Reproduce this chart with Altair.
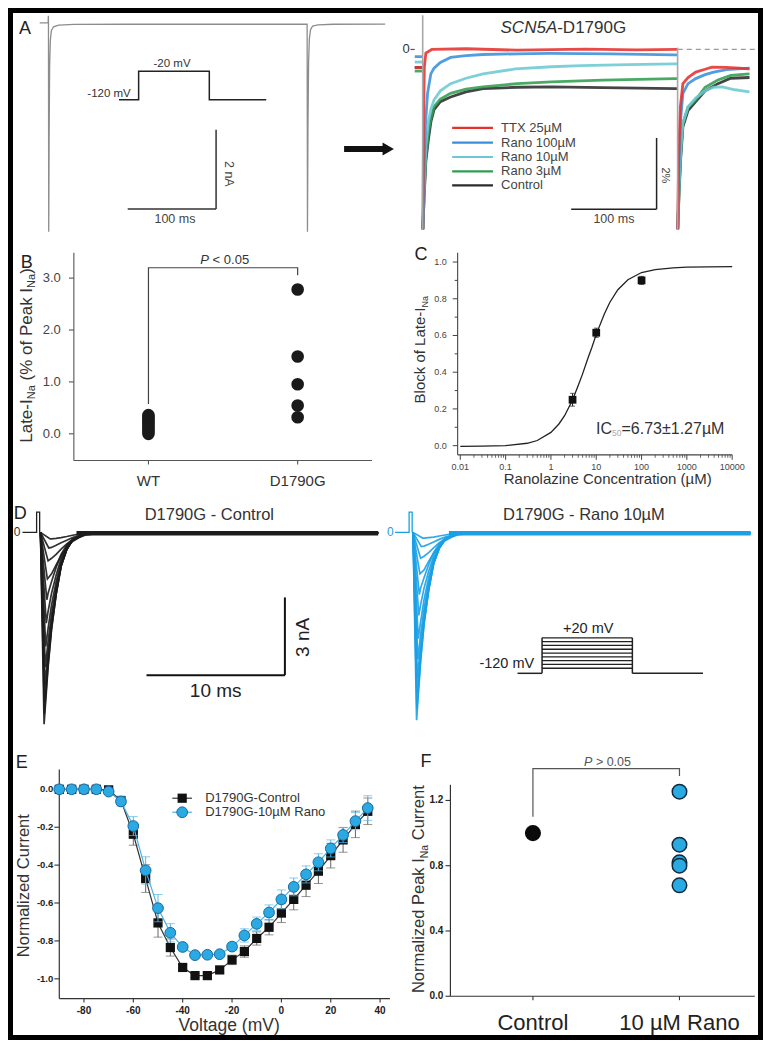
import altair as alt
import pandas as pd

# =========================== DATA ===========================
# Panel A (left): whole-cell current (nA) vs time (ms)
a_left_time = [0, 9.8, 10.0, 10.15, 10.45, 10.9, 11.5, 12.3, 13.5, 16, 22, 40, 100, 200,
               309.6, 310.0, 310.6, 311.3, 312.2, 313.6, 316, 322, 340, 400]
a_left_curr = [0, 0, 0.18, 0.0, -5.3, -3.0, -1.1, -0.45, -0.2, -0.1, -0.06, -0.04, -0.035, -0.035,
               -0.035, -5.3, -2.6, -1.0, -0.4, -0.17, -0.08, -0.05, -0.035, -0.03]
# voltage protocol inset (schematic)
a_proto_time = [0, 20, 20, 92, 92, 150]
a_proto_mv = [-120, -120, -20, -20, -120, -120]

# Panel A (right): late current (% of peak) vs time (ms)
a_names = ["TTX 25µM", "Rano 100µM", "Rano 10µM", "Rano 3µM", "Control"]
ttx_time = [0, 9.2, 9.5, 10.3, 11.2, 13, 20, 60, 120, 200, 260, 307.5, 308, 309, 311, 314, 320, 329, 340, 348, 365, 380, 392]
ttx_curr = [-0.5, -0.5, -5.0, -2.0, -0.5, -0.1, 0.0, 0.02, -0.02, 0.01, -0.01, 0.0, -5.0, -3.0, -1.6, -0.95, -0.78, -0.63, -0.55, -0.49, -0.5, -0.52, -0.54]
r100_time = [0, 9.2, 9.5, 11, 12.5, 15, 18.8, 22.6, 30, 42, 60, 80, 120, 157, 230, 304, 307.5, 308, 309.5, 311.5, 314, 320, 329, 340, 350, 365, 392]
r100_curr = [-0.2, -0.2, -5.0, -3.4, -2.1, -1.22, -0.68, -0.52, -0.36, -0.22, -0.17, -0.14, -0.12, -0.11, -0.12, -0.15, -0.15, -5.0, -3.2, -1.9, -1.22, -0.95, -0.81, -0.7, -0.63, -0.56, -0.52]
r10_time = [0, 9.2, 9.5, 11, 13, 16, 19, 22.6, 30, 42, 60, 80, 118, 160, 195, 250, 304, 307.5, 308, 309.5, 311.5, 314, 320, 329, 340, 350, 360, 375, 392]
r10_curr = [-0.35, -0.35, -5.0, -3.8, -2.7, -2.0, -1.65, -1.4, -1.15, -0.95, -0.8, -0.68, -0.54, -0.48, -0.45, -0.42, -0.40, -0.40, -5.0, -3.8, -2.8, -2.05, -1.6, -1.35, -1.15, -1.05, -1.04, -1.12, -1.18]
r3_time = [0, 9.2, 9.5, 11, 13, 16, 19, 22.6, 30, 42, 60, 80, 120, 160, 220, 304, 307.5, 308, 309.5, 311.5, 314, 320, 329, 340, 355, 370, 392]
r3_curr = [-0.6, -0.6, -5.0, -4.0, -3.0, -2.3, -1.9, -1.59, -1.38, -1.22, -1.1, -1.04, -0.95, -0.9, -0.85, -0.81, -0.81, -5.0, -3.9, -2.9, -2.05, -1.6, -1.4, -1.05, -0.85, -0.72, -0.68]
ctl_time = [0, 9.2, 9.5, 11, 13, 16, 19, 22.6, 30, 42, 60, 80, 120, 160, 220, 304, 307.5, 308, 309.5, 311.5, 314, 320, 329, 340, 355, 370, 392]
ctl_curr = [-0.5, -0.5, -5.0, -4.1, -3.1, -2.5, -2.0, -1.67, -1.45, -1.32, -1.18, -1.09, -1.05, -1.04, -1.06, -1.09, -1.09, -5.0, -4.0, -3.0, -2.15, -1.7, -1.45, -1.15, -0.95, -0.8, -0.78]
a_cap_time = [9.3, 307.8]
a_cap_top = [0.95, 0.05]
a_cap_bottom = [-5.0, -5.0]

# Panel B: late INa (% of peak)
b_groups = ["WT", "D1790G"]
b_wt = [0.0, 0.04, 0.08, 0.12, 0.16, 0.2, 0.24, 0.28, 0.32, 0.36]
b_mut = [2.78, 1.49, 0.955, 0.545, 0.32]

# Panel C: dose response
c_conc = [3, 10, 100]
c_block = [0.25, 0.615, 0.90]
c_sem = [0.035, 0.025, 0.022]
c_fit_conc = [0.01, 0.03, 0.1, 0.3, 0.5, 1, 1.5, 2, 3, 4, 5, 6.73, 8, 10, 15, 20, 30, 50, 100, 200, 500, 1000, 3000, 10000]
c_fit_block = [-0.004, -0.003, 0.0, 0.013, 0.028, 0.072, 0.118, 0.163, 0.249, 0.327, 0.391, 0.484, 0.535, 0.606,
               0.716, 0.781, 0.849, 0.904, 0.943, 0.959, 0.968, 0.972, 0.974, 0.975]
c_xtick_labels = ["0.01", "0.1", "1", "10", "100", "1000", "10000"]

# Panel D: current families (nA vs ms), one list per voltage step
d_sample_time = [
    [0, 0.26, 0.55, 0.8, 1.13, 1.49, 1.9, 2.32, 3.26, 4.5, 24.4],
    [0, 0.28, 0.55, 0.8, 1.13, 1.49, 1.9, 2.32, 3.26, 4.5, 24.4],
    [0, 0.30, 0.55, 0.8, 1.13, 1.49, 1.9, 2.32, 3.26, 4.5, 24.4],
    [0, 0.32, 0.55, 0.8, 1.13, 1.49, 1.9, 2.32, 3.26, 4.5, 24.4],
    [0, 0.35, 0.55, 0.8, 1.13, 1.49, 1.9, 2.32, 3.26, 4.5, 24.4],
    [0, 0.38, 0.55, 0.8, 1.13, 1.49, 1.9, 2.32, 3.26, 4.5, 24.4],
    [0, 0.42, 0.55, 0.8, 1.13, 1.49, 1.9, 2.32, 3.26, 4.5, 24.4],
    [0, 0.46, 0.55, 0.8, 1.13, 1.49, 1.9, 2.32, 3.26, 4.5, 24.4],
    [0, 0.50, 0.8, 1.13, 1.49, 1.9, 2.32, 2.8, 3.26, 4.5, 24.4],
    [0, 0.55, 0.8, 1.13, 1.49, 1.9, 2.32, 2.8, 3.26, 4.5, 24.4],
    [0, 0.60, 0.8, 1.13, 1.49, 1.9, 2.32, 2.8, 3.26, 4.5, 24.4],
    [0, 0.70, 0.8, 1.13, 1.49, 1.9, 2.32, 2.8, 3.26, 4.5, 24.4]]
d_ctl_curr = [
    [0, -7.4, -5.2, -3.75, -2.4, -1.3, -0.65, -0.3, -0.05, -0.02, -0.02],
    [0, -7.0, -5.1, -3.7, -2.4, -1.32, -0.66, -0.3, -0.05, -0.02, -0.02],
    [0, -6.5, -4.9, -3.6, -2.35, -1.3, -0.66, -0.3, -0.05, -0.02, -0.02],
    [0, -5.9, -4.6, -3.4, -2.25, -1.27, -0.65, -0.3, -0.05, -0.02, -0.02],
    [0, -5.2, -4.2, -3.15, -2.1, -1.22, -0.63, -0.3, -0.05, -0.02, -0.02],
    [0, -4.4, -3.7, -2.8, -1.9, -1.12, -0.6, -0.29, -0.05, -0.02, -0.02],
    [0, -3.5, -3.05, -2.35, -1.65, -1.0, -0.55, -0.27, -0.05, -0.02, -0.02],
    [0, -2.6, -2.35, -1.9, -1.35, -0.85, -0.48, -0.25, -0.05, -0.02, -0.02],
    [0, -1.8, -1.6, -1.25, -0.9, -0.58, -0.35, -0.2, -0.1, -0.03, -0.02],
    [0, -1.1, -1.0, -0.85, -0.65, -0.44, -0.28, -0.16, -0.09, -0.03, -0.02],
    [0, -0.6, -0.58, -0.5, -0.4, -0.3, -0.2, -0.12, -0.07, -0.03, -0.02],
    [0, -0.25, -0.25, -0.23, -0.2, -0.16, -0.11, -0.07, -0.05, -0.02, -0.02]]
d_rano_curr = [
    [0, -7.25, -5.0, -3.55, -2.25, -1.2, -0.6, -0.27, -0.05, -0.02, -0.02],
    [0, -6.8, -4.9, -3.5, -2.25, -1.22, -0.61, -0.27, -0.05, -0.02, -0.02],
    [0, -6.2, -4.65, -3.4, -2.2, -1.2, -0.6, -0.27, -0.05, -0.02, -0.02],
    [0, -5.6, -4.35, -3.2, -2.1, -1.17, -0.6, -0.27, -0.05, -0.02, -0.02],
    [0, -4.9, -3.95, -2.95, -1.95, -1.12, -0.58, -0.27, -0.05, -0.02, -0.02],
    [0, -4.1, -3.45, -2.6, -1.75, -1.03, -0.55, -0.26, -0.05, -0.02, -0.02],
    [0, -3.2, -2.8, -2.15, -1.5, -0.92, -0.5, -0.25, -0.05, -0.02, -0.02],
    [0, -2.4, -2.15, -1.75, -1.25, -0.78, -0.44, -0.23, -0.05, -0.02, -0.02],
    [0, -1.6, -1.45, -1.12, -0.8, -0.52, -0.32, -0.18, -0.09, -0.03, -0.02],
    [0, -1.0, -0.92, -0.78, -0.6, -0.4, -0.26, -0.15, -0.08, -0.03, -0.02],
    [0, -0.55, -0.53, -0.46, -0.37, -0.27, -0.18, -0.11, -0.06, -0.03, -0.02],
    [0, -0.22, -0.22, -0.2, -0.18, -0.14, -0.1, -0.06, -0.04, -0.02, -0.02]]
d_cap_time = [-1.3, -0.28, -0.28, -0.06, -0.06]
d_cap_curr = [0, 0, 0.78, 0.78, 0]
d_late_time = [2.6, 24.4]
d_late_curr = [-0.03, -0.03]
d_step_mv = [-100, -85, -70, -55, -40, -25, -10, 5, 20]

# Panel E: I-V relationship
e_mv = [-90, -85, -80, -75, -70, -65, -60, -55, -50, -45, -40, -35, -30, -25, -20, -15, -10, -5, 0, 5, 10, 15, 20, 25, 30, 35]
e_ctl = [0, 0, 0, 0, -0.003, -0.059, -0.237, -0.471, -0.705, -0.835, -0.94, -0.983, -0.983, -0.953, -0.90, -0.856,
         -0.787, -0.728, -0.653, -0.581, -0.506, -0.432, -0.35, -0.267, -0.185, -0.116]
e_ctl_err = [0, 0, 0, 0, 0.005, 0.02, 0.058, 0.073, 0.075, 0.045, 0.015, 0.01, 0.01, 0.015, 0.025, 0.03,
             0.035, 0.04, 0.05, 0.055, 0.06, 0.065, 0.065, 0.065, 0.07, 0.07]
e_rano = [0, 0, 0, 0, -0.012, -0.064, -0.194, -0.428, -0.627, -0.757, -0.832, -0.875, -0.873, -0.87, -0.83, -0.771,
          -0.71, -0.65, -0.581, -0.515, -0.449, -0.385, -0.312, -0.241, -0.168, -0.099]
e_rano_err = [0, 0, 0, 0, 0.005, 0.025, 0.05, 0.072, 0.072, 0.048, 0.02, 0.01, 0.01, 0.012, 0.02, 0.035,
              0.036, 0.04, 0.05, 0.047, 0.045, 0.045, 0.045, 0.04, 0.045, 0.065]
e_ytick_labels = ["0.0", "-0.2", "-0.4", "-0.6", "-0.8", "-1.0"]
e_xtick_labels = ["-80", "-60", "-40", "-20", "0", "20", "40"]

# Panel F: normalized peak INa
f_groups = ["Control", "10 µM Rano"]
f_ctl = [1.0]
f_rano = [1.254, 0.929, 0.821, 0.80, 0.68]

# =========================== LAYOUT HELPERS ===========================
FONT = "Liberation Sans"
W, H = 755, 1032


def X(px):
    return 5 + (px - 6) * (W - 10) / 759.0


def Y(py):
    return 5 + (py - 5) * (H - 10) / 1037.0


def S(domain, rng, log=False):
    if log:
        return alt.Scale(type="log", domain=domain, range=rng, nice=False)
    return alt.Scale(domain=domain, range=rng, nice=False, zero=False)


def exy(xs, ys):
    return dict(x=alt.X("x:Q", scale=xs, axis=None), y=alt.Y("y:Q", scale=ys, axis=None))


def path(xv, yv, xs, ys, detail=None, **mk):
    df = pd.DataFrame({"x": xv, "y": yv, "o": list(range(len(xv)))})
    enc = dict(order="o:Q", **exy(xs, ys))
    if detail is not None:
        df["d"] = detail
        enc["detail"] = "d:N"
    return alt.Chart(df).mark_line(**mk).encode(**enc)


def segs(rows, xs, ys, **mk):
    df = pd.DataFrame(rows, columns=["x", "x2", "y", "y2"])
    return alt.Chart(df).mark_rule(**mk).encode(
        x=alt.X("x:Q", scale=xs, axis=None), x2="x2:Q",
        y=alt.Y("y:Q", scale=ys, axis=None), y2="y2:Q")


def labels(rows, xs, ys, **mk):
    df = pd.DataFrame(rows, columns=["x", "y", "t"])
    return alt.Chart(df).mark_text(font=FONT, **mk).encode(text="t:N", **exy(xs, ys))


def circles(xv, yv, xs, ys, **mk):
    return alt.Chart(pd.DataFrame({"x": xv, "y": yv})).mark_circle(**mk).encode(**exy(xs, ys))


def squares(xv, yv, xs, ys, **mk):
    return alt.Chart(pd.DataFrame({"x": xv, "y": yv})).mark_square(**mk).encode(**exy(xs, ys))


def points(xv, yv, xs, ys, **mk):
    return alt.Chart(pd.DataFrame({"x": xv, "y": yv})).mark_point(**mk).encode(**exy(xs, ys))


def caps(xv, yv, xs, ys, **mk):
    return alt.Chart(pd.DataFrame({"x": xv, "y": yv})).mark_tick(orient="horizontal", **mk).encode(**exy(xs, ys))


CW = {' ': 278, 'a': 556, 'b': 556, 'c': 500, 'd': 556, 'e': 556, 'f': 278, 'g': 556, 'h': 556, 'i': 222,
      'j': 222, 'k': 500, 'l': 222, 'm': 833, 'n': 556, 'o': 556, 'p': 556, 'q': 556, 'r': 333, 's': 500,
      't': 278, 'u': 556, 'v': 500, 'w': 722, 'x': 500, 'y': 500, 'z': 500, 'A': 667, 'B': 667, 'C': 722,
      'D': 722, 'E': 667, 'F': 611, 'G': 778, 'H': 722, 'I': 278, 'L': 556, 'M': 833, 'N': 722, 'P': 667,
      'R': 722, 'S': 667, 'T': 611, 'V': 667, 'W': 944, '-': 333, '(': 333, ')': 333, '%': 889, '.': 278,
      '=': 584, '±': 584, 'µ': 556, '<': 584, '>': 584, '+': 584}


def tw(s, size):
    return sum(CW.get(c, 556) for c in s) * size / 1000.0


def rich(pieces, ax, ay, angle=0, align="center"):
    ps = []
    for p in pieces:
        p = list(p) + [None] * (5 - len(p))
        ps.append((p[0], p[1], p[2] or 0, p[3] or "normal", p[4] or "#333333"))
    total = sum(tw(t, s) for t, s, _, _, _ in ps)
    u, d = {0: ((1, 0), (0, 1)), 270: ((0, -1), (1, 0)), 90: ((0, 1), (-1, 0))}[angle]
    off = -total / 2.0 if align == "center" else 0.0
    rows = []
    for t, s, sh, st, col in ps:
        lead = len(t) - len(t.lstrip(" "))
        off += tw(" " * lead, s)
        body = t.lstrip(" ")
        rows.append(dict(x=ax + u[0] * off + d[0] * sh, y=ay + u[1] * off + d[1] * sh,
                         text=body, size=s, angle=angle, style=st, color=col))
        off += tw(body, s)
    return rows


def ptext(rows):
    df = pd.DataFrame(rows)
    out = []
    for (st, ang), g in df.groupby(["style", "angle"]):
        out.append(alt.Chart(g.reset_index(drop=True)).mark_text(
            align="left", baseline="alphabetic", angle=float(ang), fontStyle=str(st), font=FONT).encode(
            x=alt.X("x:Q", scale=None, axis=None), y=alt.Y("y:Q", scale=None, axis=None),
            text="text:N", size=alt.Size("size:Q", scale=None, legend=None),
            color=alt.Color("color:N", scale=None, legend=None)))
    return out


panels = []

# ---------------- Panel A left ----------------
xAL = S([0, 400], [X(33.2), X(385.2)])
yAL = S([-5.3, 0.2], [Y(227), Y(7)])
panels.append(alt.layer(
    path(a_left_time, a_left_curr, xAL, yAL, color="#8d8d8d", strokeWidth=1.3),
    segs([(101.9, 204.2, -4.72, -4.72), (204.2, 204.2, -2.71, -4.72)], xAL, yAL, color="#333333", strokeWidth=1.5),
    labels([(156.6, -4.72, "100 ms")], xAL, yAL, align="center", baseline="middle", dy=10, fontSize=12.5, color="#444444"),
    labels([(219.0, -3.83, "2 nA")], xAL, yAL, align="center", baseline="middle", angle=90, fontSize=12.5, color="#444444"),
    segs([(352.4, 398.0, -3.2, -3.2)], xAL, yAL, color="#111111", strokeWidth=6),
    points([403.5], [-3.2], xAL, yAL, shape="triangle-right", filled=True, size=170, color="#111111", opacity=1),
))

xAP = S([0, 150], [X(114), X(264)])
yAP = S([-120, -20], [Y(93), Y(64)])
panels.append(alt.layer(
    path(a_proto_time, a_proto_mv, xAP, yAP, color="#222222", strokeWidth=1.5),
    labels([(12, -120, "-120 mV")], xAP, yAP, align="right", baseline="bottom", dy=-1, fontSize=11.5, color="#333333"),
    labels([(54, -20, "-20 mV")], xAP, yAP, align="center", baseline="bottom", dy=-2, fontSize=11.5, color="#333333"),
))

# ---------------- Panel A right ----------------
xAR = S([0, 400], [X(415.3), X(763.3)])
yAR = S([-5, 0.5], [Y(224.5), Y(23.75)])
a_colors = {"TTX 25µM": "#e5322d", "Rano 100µM": "#3a8fdc", "Rano 10µM": "#6cc9d3",
            "Rano 3µM": "#2f9e50", "Control": "#2b2b2b"}
a_traces = {"TTX 25µM": (ttx_time, ttx_curr), "Rano 100µM": (r100_time, r100_curr),
            "Rano 10µM": (r10_time, r10_curr), "Rano 3µM": (r3_time, r3_curr), "Control": (ctl_time, ctl_curr)}
ar = [
    segs([(308, 400, 0, 0)], xAR, yAR, color="#9a9a9a", strokeDash=[5, 4], strokeWidth=1.3),
    segs([(-5, 0, 0, 0)], xAR, yAR, color="#555555", strokeWidth=1.2),
    labels([(-6, 0, "0")], xAR, yAR, align="right", baseline="middle", fontSize=13, color="#333333"),
]
for name in ["Control", "Rano 3µM", "Rano 10µM", "Rano 100µM", "TTX 25µM"]:
    t, i = a_traces[name]
    sweep = [0 if v < 9.4 else (1 if v < 307.9 else 2) for v in t]
    ar.append(path(t, i, xAR, yAR, detail=sweep, color=a_colors[name], strokeWidth=2.8, opacity=0.88))
ar.append(segs(list(zip(a_cap_time, a_cap_time, a_cap_top, a_cap_bottom)), xAR, yAR, color="#a8a8a8", strokeWidth=1.6))
leg_y = [-2.18, -2.59, -2.99, -3.39, -3.78]
for name, ly in zip(a_names, leg_y):
    ar.append(segs([(43.8, 91.6, ly, ly)], xAR, yAR, color=a_colors[name], strokeWidth=2.2))
ar.append(labels([(101.1, ly, n) for n, ly in zip(a_names, leg_y)], xAR, yAR,
                 align="left", baseline="middle", fontSize=13, color="#444444"))
ar.append(segs([(183.2, 283.2, -4.44, -4.44), (283.2, 283.2, -2.46, -4.44)], xAR, yAR, color="#222222", strokeWidth=1.5))
ar.append(labels([(233.2, -4.44, "100 ms")], xAR, yAR, align="center", baseline="middle", dy=10, fontSize=12.5, color="#444444"))
ar.append(labels([(293.5, -3.5, "2%")], xAR, yAR, align="center", baseline="middle", angle=90, fontSize=11, color="#444444"))
panels.append(alt.layer(*ar))

# ---------------- Panel B ----------------
xB = S([1, 2], [X(144), X(296)])
yB = S([0, 3], [Y(432), Y(274)])
panels.append(alt.layer(
    segs([(0.5, 0.5, -0.513, 3.488), (0.5, 2.498, -0.513, -0.513)], xB, yB, color="#555555", strokeWidth=1.1),
    segs([(0.467, 0.5, v, v) for v in [0, 1, 2, 3]], xB, yB, color="#555555", strokeWidth=1.1),
    segs([(v, v, -0.513, -0.59) for v in [1, 2]], xB, yB, color="#555555", strokeWidth=1.1),
    labels([(0.5, v, s) for v, s in zip([0, 1, 2, 3], ["0.0", "1.0", "2.0", "3.0"])], xB, yB,
           align="right", baseline="middle", dx=-13, fontSize=13, color="#444444"),
    labels([(i + 1, -0.513, g) for i, g in enumerate(b_groups)], xB, yB,
           align="center", baseline="middle", dy=21, fontSize=15, color="#333333"),
    path([1, 1, 2, 2], [0.575, 3.2, 3.2, 3.057], xB, yB, color="#444444", strokeWidth=1.2),
    circles([1] * len(b_wt), b_wt, xB, yB, size=160, color="#1a1a1a", opacity=1),
    circles([2] * len(b_mut), b_mut, xB, yB, size=160, color="#1a1a1a", opacity=1),
))

# ---------------- Panel C ----------------
xC = S([0.01, 10000], [X(461.7), X(738.7)], log=True)
yC = S([0, 1], [Y(444), Y(257.7)])
c_major = [0.01, 0.1, 1, 10, 100, 1000, 10000]
c_minor = [m * 10.0 ** e for e in range(-2, 4) for m in range(2, 10)]
panels.append(alt.layer(
    segs([(0.00874, 0.00874, -0.05, 1.05), (0.00874, 10000, -0.05, -0.05)], xC, yC, color="#444444", strokeWidth=1.1),
    segs([(0.00681, 0.00874, v, v) for v in [0, 0.2, 0.4, 0.6, 0.8, 1.0]], xC, yC, color="#444444", strokeWidth=1),
    segs([(0.00752, 0.00874, v, v) for v in [0.1, 0.3, 0.5, 0.7, 0.9]], xC, yC, color="#444444", strokeWidth=1),
    segs([(v, v, -0.05, -0.077) for v in c_major], xC, yC, color="#444444", strokeWidth=1),
    segs([(v, v, -0.05, -0.066) for v in c_minor], xC, yC, color="#444444", strokeWidth=0.8),
    labels([(0.00874, v, s) for v, s in zip([0, 0.2, 0.4, 0.6, 0.8, 1.0], ["0.0", "0.2", "0.4", "0.6", "0.8", "1.0"])],
           xC, yC, align="right", baseline="middle", dx=-11, fontSize=9, color="#444444"),
    labels([(v, -0.05, s) for v, s in zip(c_major, c_xtick_labels)], xC, yC,
           align="center", baseline="middle", dy=12, fontSize=9, color="#444444"),
    path(c_fit_conc, c_fit_block, xC, yC, color="#222222", strokeWidth=1.3),
    segs([(c, c, m - e, m + e) for c, m, e in zip(c_conc, c_block, c_sem)], xC, yC, color="#222222", strokeWidth=1),
    caps(c_conc + c_conc, [m - e for m, e in zip(c_block, c_sem)] + [m + e for m, e in zip(c_block, c_sem)],
         xC, yC, size=5, thickness=1, color="#222222"),
    squares(c_conc, c_block, xC, yC, size=60, color="#111111", opacity=1),
))

# ---------------- Panel D ----------------
yD = S([-9, 1], [Y(768.7), Y(505.7)])


def d_family(curr, xs, color):
    tt, ii, dd = [], [], []
    for k, (ts, cs) in enumerate(zip(d_sample_time, curr)):
        tt += ts
        ii += cs
        dd += [k] * len(ts)
    return path(tt, ii, xs, yD, detail=dd, color=color, strokeWidth=1.7, opacity=0.9)


xDL = S([-2, 25], [X(5.8), X(386.5)])
panels.append(alt.layer(
    path(d_cap_time, d_cap_curr, xDL, yD, color="#222222", strokeWidth=1.3),
    d_family(d_ctl_curr, xDL, "#1c1c1c"),
    path(d_late_time, d_late_curr, xDL, yD, color="#1c1c1c", strokeWidth=4.5),
    labels([(-1.45, 0, "0")], xDL, yD, align="right", baseline="middle", fontSize=12, color="#333333"),
    segs([(7.66, 17.66, -5.51, -5.51), (17.66, 17.66, -2.51, -5.51)], xDL, yD, color="#111111", strokeWidth=2),
    labels([(12.66, -5.51, "10 ms")], xDL, yD, align="center", baseline="middle", dy=16, fontSize=19, color="#222222"),
    labels([(19.0, -4.05, "3 nA")], xDL, yD, align="center", baseline="middle", angle=270, fontSize=19, color="#222222"),
))

xDR = S([-2, 25], [X(385.3), X(766.0)])
panels.append(alt.layer(
    path(d_cap_time, d_cap_curr, xDR, yD, color="#1aa0e6", strokeWidth=1.3),
    d_family(d_rano_curr, xDR, "#1aa0e6"),
    path(d_late_time, d_late_curr, xDR, yD, color="#1aa0e6", strokeWidth=4.5),
    labels([(-1.4, 0, "0")], xDR, yD, align="right", baseline="middle", fontSize=12, color="#2a9bd8"),
))

xDP = S([0, 190], [X(520), X(710)])
yDP = S([-120, 20], [Y(675), Y(639)])
panels.append(alt.layer(
    segs([(25, 117, v, v) for v in d_step_mv], xDP, yDP, color="#222222", strokeWidth=1.3),
    segs([(25, 25, -120, 20), (117, 117, -120, 20), (0, 25, -120, -120), (117, 189, -120, -120)],
         xDP, yDP, color="#222222", strokeWidth=1.5),
    labels([(17, -120, "-120 mV")], xDP, yDP, align="right", baseline="bottom", dy=-2, fontSize=14.5, color="#222222"),
    labels([(72, 20, "+20 mV")], xDP, yDP, align="center", baseline="bottom", dy=-2, fontSize=14.5, color="#222222"),
))

# ---------------- Panel E ----------------
xE = S([-80, 40], [X(78.3), X(380)])
yE = S([-1, 0], [Y(985), Y(792.7)])
e_yt = [0, -0.2, -0.4, -0.6, -0.8, -1.0]
e_xt = [-80, -60, -40, -20, 0, 20, 40]
panels.append(alt.layer(
    segs([(-90, -90, -1.104, 0.104), (-90, 44, -1.104, -1.104)], xE, yE, color="#333333", strokeWidth=1.2),
    segs([(-92.0, -90, v, v) for v in e_yt], xE, yE, color="#333333", strokeWidth=1.1),
    segs([(v, v, -1.104, -1.125) for v in e_xt], xE, yE, color="#333333", strokeWidth=1.1),
    labels(list(zip([-90] * 6, e_yt, e_ytick_labels)), xE, yE, align="right", baseline="middle", dx=-6,
           fontSize=9.5, fontWeight="bold", color="#222222"),
    labels(list(zip(e_xt, [-1.104] * 7, e_xtick_labels)), xE, yE, align="center", baseline="middle", dy=12,
           fontSize=10, fontWeight="bold", color="#222222"),
    segs([(v, v, m - e, m + e) for v, m, e in zip(e_mv, e_ctl, e_ctl_err)], xE, yE, color="#666666", strokeWidth=1),
    caps(e_mv + e_mv, [m - e for m, e in zip(e_ctl, e_ctl_err)] + [m + e for m, e in zip(e_ctl, e_ctl_err)],
         xE, yE, size=9, thickness=1, color="#666666"),
    path(e_mv, e_ctl, xE, yE, color="#333333", strokeWidth=1.2),
    squares(e_mv, e_ctl, xE, yE, size=85, color="#111111", opacity=1),
    segs([(v, v, m - e, m + e) for v, m, e in zip(e_mv, e_rano, e_rano_err)], xE, yE, color="#56b6ea", strokeWidth=1),
    caps(e_mv + e_mv, [m - e for m, e in zip(e_rano, e_rano_err)] + [m + e for m, e in zip(e_rano, e_rano_err)],
         xE, yE, size=9, thickness=1, color="#56b6ea"),
    path(e_mv, e_rano, xE, yE, color="#4ab0e6", strokeWidth=1.2),
    circles(e_mv, e_rano, xE, yE, size=115, fill="#2aa9e2", stroke="#1a6aa0", strokeWidth=1, opacity=1),
    segs([(-44.2, -36.25, -0.047, -0.047)], xE, yE, color="#333333", strokeWidth=1.2),
    segs([(-44.2, -36.25, -0.121, -0.121)], xE, yE, color="#4ab0e6", strokeWidth=1.2),
    squares([-40.2], [-0.047], xE, yE, size=85, color="#111111", opacity=1),
    circles([-40.2], [-0.121], xE, yE, size=115, fill="#2aa9e2", stroke="#1a6aa0", strokeWidth=1, opacity=1),
    labels([(-30.9, -0.047, "D1790G-Control"), (-30.9, -0.121, "D1790G-10µM Rano")], xE, yE,
           align="left", baseline="middle", fontSize=13, color="#333333"),
))

# ---------------- Panel F ----------------
xF = S([1, 2], [X(535.7), X(685)])
yF = S([0, 1.2], [Y(1002.7), Y(804)])
panels.append(alt.layer(
    segs([(0.437, 0.437, 0, 1.296), (0.437, 2.514, 0, 0)], xF, yF, color="#333333", strokeWidth=1.2),
    segs([(0.4035, 0.437, v, v) for v in [0, 0.4, 0.8, 1.2]], xF, yF, color="#333333", strokeWidth=1.1),
    segs([(v, v, 0, -0.024) for v in [1, 2]], xF, yF, color="#333333", strokeWidth=1.1),
    labels([(0.437, v, s) for v, s in zip([0, 0.4, 0.8, 1.2], ["0.0", "0.4", "0.8", "1.2"])], xF, yF,
           align="right", baseline="middle", dx=-7, fontSize=10, fontWeight="bold", color="#222222"),
    labels([(i + 1, 0, g) for i, g in enumerate(f_groups)], xF, yF, align="center", baseline="middle",
           dy=27, fontSize=22, color="#222222"),
    path([1, 1, 2, 2], [1.10, 1.395, 1.395, 1.35], xF, yF, color="#555555", strokeWidth=1.2),
    circles([1] * len(f_ctl), f_ctl, xF, yF, size=260, color="#0a0a0a", opacity=1),
    circles([2] * len(f_rano), f_rano, xF, yF, size=210, fill="#29abe2", stroke="#0d2a40", strokeWidth=1.5, opacity=1),
))

# ---------------- titles, letters, rich labels (pixel positioned) ----------------
rows = []
for letter, lx, ly in [("A", 18.3, 26.5), ("B", 20, 263.5), ("C", 421.7, 256), ("D", 13.3, 518.3),
                       ("E", 15, 771.5), ("F", 426.7, 770)]:
    rows += rich([(letter, 18, 0, "normal", "#222222")], X(lx), Y(ly))
rows += rich([("SCN5A", 17, 0, "italic"), ("-D1790G", 17, 0, "normal")], X(566.7), Y(25))
rows += rich([("D1790G - Control", 16.5)], X(206), Y(519.5))
rows += rich([("D1790G - Rano 10µM", 16.5)], X(587.5), Y(519.5))
rows += rich([("P", 13, 0, "italic"), (" < 0.05", 13)], X(221.7), Y(260))
rows += rich([("P", 12.5, 0, "italic", "#555555"), (" > 0.05", 12.5, 0, "normal", "#555555")], X(611.7), Y(769.3))
rows += rich([("IC", 16), ("50", 8.5, 2.5, "normal", "#aaaaaa"), ("=6.73±1.27µM", 16)], X(600), Y(431.7), align="left")
rows += rich([("Ranolazine Concentration (µM)", 15)], X(611.7), Y(483))
rows += rich([("Voltage (mV)", 17.5)], X(226.7), Y(1038))
rows += rich([("Late-I", 17), ("Na", 11, 3.5), (" (% of Peak I", 17), ("Na", 11, 3.5), (")", 17)],
             X(19 + 6.1), Y(352.5), angle=270)
rows += rich([("Block of Late-I", 15), ("Na", 9, 3)], X(420.8 + 5.4), Y(346.7), angle=270)
rows += rich([("Normalized Current", 16.5)], X(16.7 + 5.9), Y(890.5), angle=270)
rows += rich([("Normalized Peak I", 16.5), ("Na", 10.5, 3.5), (" Current", 16.5)], X(419 + 5.9), Y(894), angle=270)

chart = alt.layer(*panels, *ptext(rows)).resolve_scale(x="independent", y="independent").properties(
    width=W, height=H, autosize=alt.AutoSizeParams(type="none"), padding=0, background="white"
).configure_view(stroke="black", strokeWidth=10)

chart.save("out.html", embed_options={"renderer": "svg", "actions": False})
